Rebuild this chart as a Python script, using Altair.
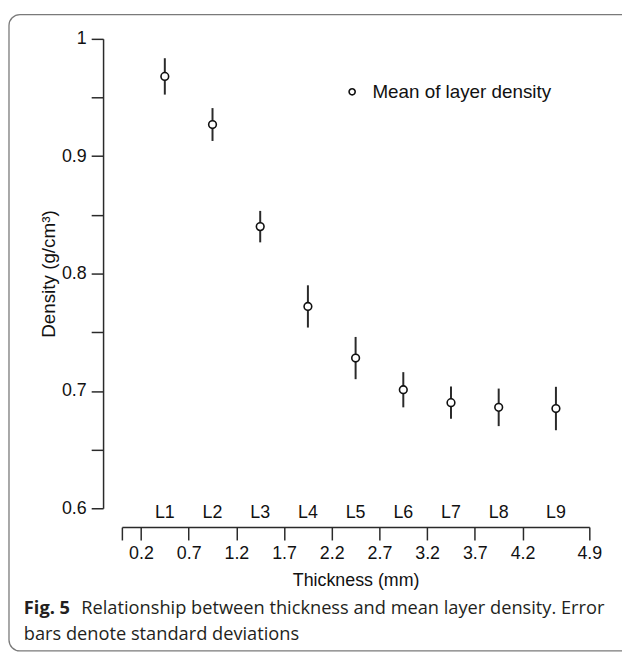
import altair as alt
import pandas as pd

# ---- data ----
layers = ["L1", "L2", "L3", "L4", "L5", "L6", "L7", "L8", "L9"]
thickness_mid = [0.45, 0.95, 1.45, 1.95, 2.45, 2.95, 3.45, 3.95, 4.55]
mean_density = [0.968, 0.927, 0.840, 0.772, 0.728, 0.701, 0.690, 0.686, 0.685]
sd_density = [0.0155, 0.014, 0.0134, 0.018, 0.018, 0.015, 0.0137, 0.016, 0.0185]

x_tick_values = [0, 0.2, 0.7, 1.2, 1.7, 2.2, 2.7, 3.2, 3.7, 4.2, 4.9]
y_tick_values = [0.6, 0.65, 0.7, 0.75, 0.8, 0.85, 0.9, 0.95, 1.0]

series_name = "Mean of layer density"
x_title = "Thickness (mm)"
y_title = "Density (g/cm³)"
caption_bold = "Fig. 5"
caption_line1 = "Relationship between thickness and mean layer density. Error"
caption_line2 = "bars denote standard deviations"

df = pd.DataFrame({
    "layer": layers,
    "thickness": thickness_mid,
    "density": mean_density,
    "sd": sd_density,
})
df["lo"] = df["density"] - df["sd"]
df["hi"] = df["density"] + df["sd"]
df["series"] = series_name

one = pd.DataFrame({"k": [0]})

FONT = "Liberation Sans"
CAP_FONT = "Open Sans"
INK = "#111111"

x_scale = alt.Scale(domain=[0, 4.9], nice=False, zero=False)
y_scale = alt.Scale(domain=[0.6, 1.0], nice=False, zero=False)

axis_common = dict(
    grid=False,
    domainColor="#2a2a2a", domainWidth=1.5,
    tickColor="#2a2a2a", tickWidth=1.5,
    labelFont=FONT, labelFontSize=18, labelColor=INK,
    titleFont=FONT, titleColor=INK, titleFontWeight="normal",
    labelOverlap=False, labelFlush=False,
)

x_axis = alt.Axis(
    values=x_tick_values,
    labelExpr="datum.value == 0 ? '' : format(datum.value, '.1f')",
    offset=19, tickSize=13, labelPadding=5, titlePadding=9, title=x_title,
    titleFontSize=18,
    **axis_common,
)
y_axis = alt.Axis(
    values=y_tick_values,
    labelExpr="round(datum.value * 20) % 2 == 0 ? format(datum.value, '.1~f') : ''",
    offset=19, tickSize=12, labelPadding=5, titlePadding=3, title=y_title,
    titleFontSize=19,
    **axis_common,
)

x_enc = alt.X("thickness:Q", scale=x_scale, axis=x_axis)
base = alt.Chart(df)

bars = base.mark_rule(color="#2a2a2a", strokeWidth=2).encode(
    x=x_enc,
    y=alt.Y("lo:Q", scale=y_scale, axis=y_axis),
    y2="hi:Q",
)

points = base.mark_point(
    shape="circle", filled=False, fill="white", size=60, strokeWidth=1.6, opacity=1
).encode(
    x=x_enc,
    y=alt.Y("density:Q", scale=y_scale, axis=y_axis),
    color=alt.Color(
        "series:N",
        scale=alt.Scale(range=[INK]),
        legend=alt.Legend(
            title=None, orient="none", legendX=223, legendY=44, padding=0,
            symbolType="circle", symbolSize=38, symbolStrokeWidth=1.6,
            symbolFillColor="white", symbolStrokeColor=INK,
            labelFont=FONT, labelFontSize=19, labelColor=INK, labelOffset=11,
            labelLimit=400,
        ),
    ),
)

layer_labels = base.mark_text(
    font=FONT, fontSize=18, color=INK, baseline="alphabetic", align="center"
).encode(
    x=x_enc,
    y=alt.value(484),
    text="layer:N",
)

frame = alt.Chart(one).mark_rect(
    fillOpacity=0, stroke="#7a7a7a", strokeWidth=1.3, cornerRadius=11
).encode(
    x=alt.value(-114), x2=alt.value(520),
    y=alt.value(-24.5), y2=alt.value(618),
)

cap_bold = alt.Chart(one).mark_text(
    font=CAP_FONT, fontSize=18.4, fontWeight="bold", color="#231f20",
    align="left", baseline="alphabetic",
).encode(x=alt.value(-99), y=alt.value(581), text=alt.value(caption_bold))

cap_l1 = alt.Chart(one).mark_text(
    font=CAP_FONT, fontSize=18.4, color="#231f20", align="left", baseline="alphabetic",
).encode(x=alt.value(-41), y=alt.value(581), text=alt.value(caption_line1))

cap_l2 = alt.Chart(one).mark_text(
    font=CAP_FONT, fontSize=18.4, color="#231f20", align="left", baseline="alphabetic",
).encode(x=alt.value(-99), y=alt.value(607.5), text=alt.value(caption_line2))

chart = alt.layer(frame, bars, points, layer_labels, cap_bold, cap_l1, cap_l2).properties(
    width=472, height=474,
    autosize=alt.AutoSizeParams(type="none"),
    padding={"left": 115, "top": 28, "right": 33, "bottom": 145},
    background="white",
).configure_view(strokeWidth=0)

chart.save("out.html", embed_options={"renderer": "svg", "actions": False})
